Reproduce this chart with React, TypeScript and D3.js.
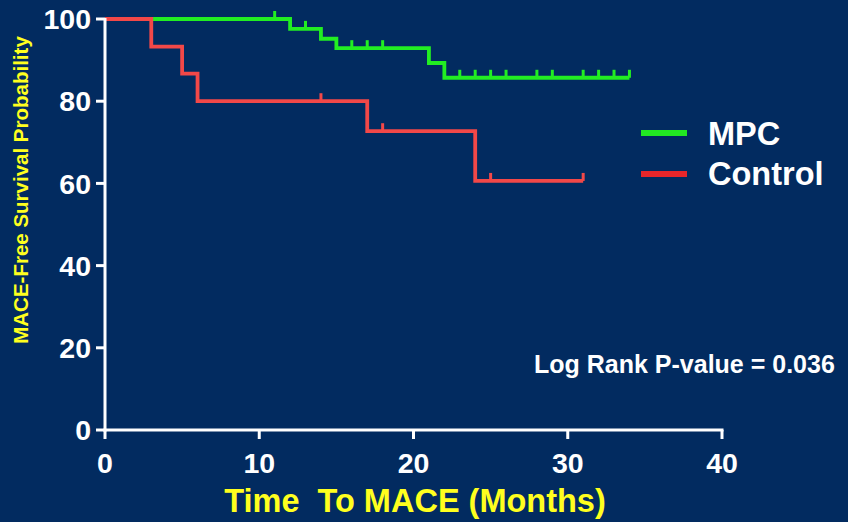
import React from 'react'
import * as d3 from 'd3'

const W = 848, H = 522

// Kaplan-Meier steps
const mpcTimes = [0, 12, 14, 15, 21, 22]
const mpcSurv = [100, 97.6, 95.2, 92.9, 89.3, 85.7]
const mpcEnd = 34
const mpcCensored = [11, 13, 16, 17, 18, 23, 24, 25, 26, 28, 29, 31, 32, 33, 34]

const ctrlTimes = [0, 3, 5, 6, 17, 24]
const ctrlSurv = [100, 93.3, 86.7, 80, 72.7, 60.6]
const ctrlEnd = 31
const ctrlCensored = [14, 18, 25, 31]

const xTicks = [0, 10, 20, 30, 40]
const yTicks = [0, 20, 40, 60, 80, 100]

const legendLabels = ['MPC', 'Control']
const pValueLabel = 'Log Rank P-value = 0.036'

const font = '"Liberation Sans", Arial, Helvetica, sans-serif'

function survAt(times: number[], surv: number[], t: number) {
  let v = surv[0]
  for (let i = 0; i < times.length; i++) if (times[i] <= t) v = surv[i]
  return v
}

const App = () => {
  const x = d3.scaleLinear().domain([0, 40]).range([105, 722])
  const y = d3.scaleLinear().domain([0, 100]).range([430, 19])

  const line = d3.line<[number, number]>()
    .x(d => x(d[0]))
    .y(d => y(d[1]))
    .curve(d3.curveStepAfter)

  const curve = (times: number[], surv: number[], end: number) => {
    const pts: [number, number][] = times.map((t, i) => [t, surv[i]])
    pts.push([end, surv[surv.length - 1]])
    return line(pts) || ''
  }

  const groups = [
    { times: mpcTimes, surv: mpcSurv, end: mpcEnd, cens: mpcCensored, color: '#22ee22' },
    { times: ctrlTimes, surv: ctrlSurv, end: ctrlEnd, cens: ctrlCensored, color: '#f24848' },
  ]
  const legendColors = ['#22e822', '#e8262a']

  return (
    <svg width={W} height={H} style={{ position: 'absolute', left: 0, top: 0 }} fontFamily={font}>
      <rect width={W} height={H} fill="#022b60" />

      {groups.map((g, gi) => (
        <g key={gi}>
          <path d={curve(g.times, g.surv, g.end)} fill="none" stroke={g.color} strokeWidth={3.8} strokeLinejoin="miter" />
          {g.cens.map(t => {
            const v = survAt(g.times, g.surv, t)
            return <line key={t} x1={x(t)} x2={x(t)} y1={y(v)} y2={y(v) - 8} stroke={g.color} strokeWidth={3} />
          })}
        </g>
      ))}

      {/* axes */}
      <line x1={x(0)} x2={x(0)} y1={y(100) - 1} y2={y(0) + 1.5} stroke="#fff" strokeWidth={3} />
      <line x1={x(0) - 1.5} x2={x(40) + 1.5} y1={y(0)} y2={y(0)} stroke="#fff" strokeWidth={3} />
      {yTicks.map(t => (
        <g key={'y' + t}>
          <line x1={x(0) - 9} x2={x(0)} y1={y(t)} y2={y(t)} stroke="#fff" strokeWidth={3} />
          <text x={91} y={y(t)} dy="0.36em" textAnchor="end" fill="#fff" fontSize={28.5} fontWeight="bold">{t}</text>
        </g>
      ))}
      {xTicks.map(t => (
        <g key={'x' + t}>
          <line x1={x(t)} x2={x(t)} y1={y(0)} y2={y(0) + 9} stroke="#fff" strokeWidth={3} />
          <text x={x(t)} y={473} textAnchor="middle" fill="#fff" fontSize={28.5} fontWeight="bold">{t}</text>
        </g>
      ))}

      <text transform="translate(28,190) rotate(-90)" textAnchor="middle" fill="#ffff1e" fontSize={20.5} fontWeight="bold">
        MACE-Free Survival Probability
      </text>
      <text x={415} y={512} textAnchor="middle" fill="#ffff1e" fontSize={32.5} fontWeight="bold" style={{ whiteSpace: 'pre' }}>
        {'Time  To MACE (Months)'}
      </text>

      {/* legend */}
      {legendLabels.map((l, i) => (
        <g key={l}>
          <line x1={641} x2={687} y1={133 + i * 41} y2={133 + i * 41} stroke={legendColors[i]} strokeWidth={6} />
          <text x={708} y={145 + i * 40} fill="#fff" fontSize={32.5} fontWeight="bold">{l}</text>
        </g>
      ))}

      <text x={534} y={373} fill="#fff" fontSize={25} fontWeight="bold">{pValueLabel}</text>
    </svg>
  )
}

export default App
